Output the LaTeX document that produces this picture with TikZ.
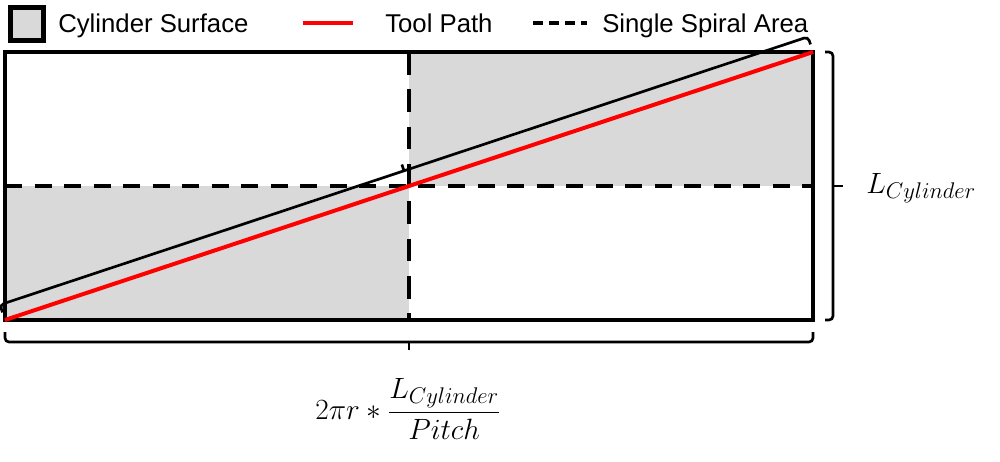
\RequirePackage{fix-cm}
\documentclass[tikz,border=0pt]{standalone}
\usepackage{amsmath}
\usepackage{fontspec}
\setmainfont{Liberation Sans}
\usetikzlibrary{calc}
\DeclareMathSizes{22}{22}{17}{13}
\definecolor{cgray}{RGB}{217,217,217}
\definecolor{tred}{RGB}{255,0,0}
\begin{document}
\begin{tikzpicture}[x=0.75pt,y=-0.75pt,
  surf/.style={fill=cgray},
  border/.style={draw=black,line width=3pt},
  hdash/.style={line width=3pt,dash pattern=on 12.75pt off 9.4pt},
  vdash/.style={line width=3pt,dash pattern=on 17pt off 11pt},
  legdash/.style={line width=3pt,dash pattern=on 7.5pt off 4.5pt},
  toolpath/.style={draw=tred,line width=3pt},
  brk/.style={line width=2pt,rounded corners=3pt},
  legtext/.style={font=\fontsize{19.3}{23}\selectfont,inner sep=0pt,anchor=base west},
  mathlbl/.style={font=\fontsize{22}{26}\selectfont,inner sep=0pt}
]
\useasboundingbox (0,0) rectangle (1000,461);
% corners
\coordinate (TL) at (5,52);
\coordinate (TR) at (813,52);
\coordinate (BL) at (5,320);
\coordinate (BR) at (813,320);
\coordinate (ML) at (5,186);
\coordinate (MR) at (813,186);
\coordinate (MT) at (409,52);
\coordinate (MB) at (409,320);
\coordinate (C) at (409,186);
% surfaces
\fill[surf] (MT) rectangle (MR);
\fill[surf] (ML) rectangle (MB);
% dashed
\draw[hdash] (ML) -- (MR);
\draw[vdash] (MT) -- (MB);
% border
\draw[border] (TL) rectangle (BR);
% tool path
\draw[toolpath] (BL) -- (TR);
% diagonal bracket
\draw[brk] ($(BL)!6pt!90:(TR)$) -- ($(BL)!12pt!90:(TR)$) -- ($(TR)!12pt!-90:(BL)$) -- ($(TR)!6pt!-90:(BL)$);
\draw[brk] ($(C)!12pt!90:(TR)$) -- ($(C)!17pt!90:(TR)$);
% right bracket
\draw[brk] ($(TR)+(12,0)$) -- ($(TR)+(20,0)$) -- ($(BR)+(20,0)$) -- ($(BR)+(12,0)$);
\draw[brk] ($(MR)+(20,0)$) -- ($(MR)+(30,0)$);
% bottom bracket
\draw[brk] ($(BL)+(0,12)$) -- ($(BL)+(0,22)$) -- ($(BR)+(0,22)$) -- ($(BR)+(0,12)$);
\draw[brk] ($(MB)+(0,22)$) -- ($(MB)+(0,30)$);
% labels
\node[mathlbl,anchor=base west] (lc) at (866,193) {$L_{Cylinder}$};
\node[mathlbl] (fr) at (408,409) {$2\pi r * \dfrac{L_{Cylinder}}{Pitch}$};
% legend
\draw[border,fill=cgray,line width=3.5pt] (10.5,7.5) rectangle (43.5,40.5);
\node[legtext] (l1) at (58,32.5) {Cylinder Surface};
\draw[toolpath] (303,23) -- (353,23);
\node[legtext] (l2) at (385,32.5) {Tool Path};
\draw[legdash] (533,23) -- (587,23);
\node[legtext] (l3) at (602,32.5) {Single Spiral Area};
\end{tikzpicture}
\end{document}
